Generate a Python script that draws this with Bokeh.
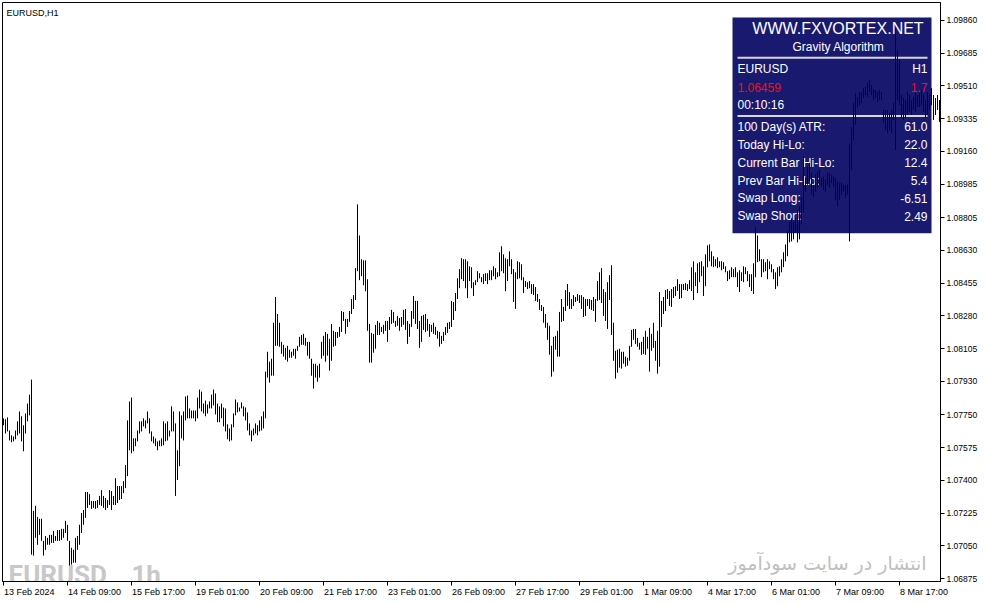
from bokeh.plotting import figure
from bokeh.models import Range1d, FixedTicker, PrintfTickFormatter
from bokeh.core.properties import value
from bokeh.embed import file_html
from bokeh.resources import INLINE

chart_title = "EURUSD,H1"

high = [
1.07732, 1.07727, 1.07737, 1.07667, 1.07641, 1.07635, 1.07667, 1.07716, 1.07769, 1.07743,
1.07695, 1.07758, 1.07811, 1.07859, 1.07939, 1.07237, 1.07264, 1.07205, 1.07195, 1.07195,
1.07077, 1.07103, 1.07093, 1.07109, 1.07109, 1.07130, 1.07103, 1.07135, 1.07135, 1.07141,
1.07141, 1.07184, 1.07163, 1.07077, 1.07040, 1.07029, 1.07093, 1.07103, 1.07163, 1.07226,
1.07242, 1.07338, 1.07338, 1.07327, 1.07290, 1.07290, 1.07290, 1.07295, 1.07317, 1.07348,
1.07317, 1.07306, 1.07295, 1.07348, 1.07343, 1.07317, 1.07412, 1.07370, 1.07370, 1.07370,
1.07396, 1.07482, 1.07721, 1.07822, 1.07843, 1.07625, 1.07625, 1.07667, 1.07716, 1.07716,
1.07732, 1.07721, 1.07769, 1.07732, 1.07662, 1.07635, 1.07625, 1.07609, 1.07614, 1.07625,
1.07716, 1.07705, 1.07716, 1.07667, 1.07796, 1.07769, 1.07705, 1.07561, 1.07769, 1.07748,
1.07769, 1.07849, 1.07854, 1.07785, 1.07774, 1.07774, 1.07774, 1.07843, 1.07886, 1.07875,
1.07811, 1.07827, 1.07806, 1.07822, 1.07859, 1.07886, 1.07865, 1.07811, 1.07796, 1.07811,
1.07790, 1.07785, 1.07700, 1.07678, 1.07700, 1.07758, 1.07833, 1.07817, 1.07790, 1.07817,
1.07796, 1.07790, 1.07764, 1.07705, 1.07667, 1.07678, 1.07705, 1.07695, 1.07721, 1.07743,
1.07769, 1.07982, 1.08088, 1.08035, 1.08051, 1.08243, 1.08381, 1.08290, 1.08243, 1.08141,
1.08125, 1.08109, 1.08120, 1.08099, 1.08088, 1.08104, 1.08104, 1.08120, 1.08168, 1.08178,
1.08184, 1.08162, 1.08141, 1.08141, 1.08051, 1.08024, 1.08024, 1.08014, 1.08024, 1.08141,
1.08173, 1.08194, 1.08184, 1.08157, 1.08237, 1.08200, 1.08194, 1.08194, 1.08221, 1.08306,
1.08301, 1.08264, 1.08264, 1.08306, 1.08370, 1.08391, 1.08535, 1.08876, 1.08710, 1.08583,
1.08577, 1.08577, 1.08476, 1.08237, 1.08189, 1.08184, 1.08232, 1.08253, 1.08243, 1.08221,
1.08232, 1.08253, 1.08253, 1.08274, 1.08312, 1.08301, 1.08253, 1.08280, 1.08269, 1.08274,
1.08312, 1.08317, 1.08253, 1.08237, 1.08306, 1.08386, 1.08360, 1.08360, 1.08253, 1.08280,
1.08285, 1.08290, 1.08264, 1.08237, 1.08232, 1.08243, 1.08221, 1.08200, 1.08194, 1.08173,
1.08194, 1.08221, 1.08243, 1.08248, 1.08360, 1.08354, 1.08402, 1.08481, 1.08530, 1.08588,
1.08583, 1.08583, 1.08572, 1.08545, 1.08540, 1.08460, 1.08471, 1.08519, 1.08508, 1.08487,
1.08503, 1.08508, 1.08508, 1.08524, 1.08524, 1.08545, 1.08535, 1.08513, 1.08620, 1.08652,
1.08609, 1.08588, 1.08583, 1.08625, 1.08583, 1.08530, 1.08513, 1.08572, 1.08567, 1.08556,
1.08487, 1.08466, 1.08460, 1.08466, 1.08450, 1.08450, 1.08434, 1.08397, 1.08370, 1.08338,
1.08328, 1.08290, 1.08243, 1.08227, 1.08120, 1.08168, 1.08173, 1.08200, 1.08301, 1.08370,
1.08328, 1.08418, 1.08450, 1.08407, 1.08370, 1.08391, 1.08381, 1.08397, 1.08391, 1.08391,
1.08381, 1.08370, 1.08370, 1.08370, 1.08365, 1.08381, 1.08370, 1.08466, 1.08513, 1.08535,
1.08423, 1.08407, 1.08460, 1.08498, 1.08551, 1.08243, 1.08093, 1.08099, 1.08104, 1.08088,
1.08088, 1.08062, 1.08056, 1.08120, 1.08205, 1.08210, 1.08210, 1.08162, 1.08136, 1.08141,
1.08168, 1.08200, 1.08168, 1.08216, 1.08184, 1.08243, 1.08146, 1.08200, 1.08407, 1.08360,
1.08381, 1.08418, 1.08423, 1.08413, 1.08423, 1.08434, 1.08439, 1.08476, 1.08450, 1.08450,
1.08450, 1.08455, 1.08450, 1.08471, 1.08540, 1.08572, 1.08513, 1.08561, 1.08567, 1.08572,
1.08545, 1.08609, 1.08657, 1.08662, 1.08625, 1.08599, 1.08583, 1.08593, 1.08572, 1.08572,
1.08567, 1.08545, 1.08519, 1.08524, 1.08540, 1.08530, 1.08540, 1.08513, 1.08524, 1.08513,
1.08545, 1.08540, 1.08519, 1.08503, 1.08503, 1.08561, 1.08753, 1.08710, 1.08636, 1.08583,
1.08583, 1.08567, 1.08583, 1.08572, 1.08556, 1.08530, 1.08513, 1.08540, 1.08545, 1.08583,
1.08620, 1.08662, 1.08732, 1.08780, 1.08801, 1.08785, 1.08806, 1.08849, 1.08865, 1.08913,
1.09131, 1.09019, 1.09077, 1.09099, 1.09045, 1.08981, 1.09035, 1.09051, 1.09062, 1.09019,
1.09024, 1.09008, 1.09045, 1.09045, 1.09035, 1.09024, 1.09019, 1.08998, 1.08992, 1.08992,
1.08981, 1.08981, 1.08981, 1.09195, 1.09290, 1.09418, 1.09471, 1.09450, 1.09477, 1.09477,
1.09498, 1.09503, 1.09524, 1.09540, 1.09514, 1.09493, 1.09487, 1.09477, 1.09487, 1.09477,
1.09381, 1.09381, 1.09381, 1.09365, 1.09381, 1.09418, 1.09817, 1.09700, 1.09647, 1.09461,
1.09445, 1.09434, 1.09477, 1.09461, 1.09434, 1.09450, 1.09477, 1.09461, 1.09471, 1.09487,
1.09461, 1.09434, 1.09477, 1.09461, 1.09498, 1.09461, 1.09445, 1.09461, 1.09434,
]

low = [
1.07695, 1.07651, 1.07662, 1.07614, 1.07604, 1.07609, 1.07620, 1.07641, 1.07651, 1.07609,
1.07556, 1.07651, 1.07716, 1.07748, 1.07003, 1.06998, 1.07093, 1.07056, 1.07109, 1.07077,
1.06998, 1.07029, 1.07056, 1.07056, 1.07066, 1.07066, 1.07077, 1.07077, 1.07077, 1.07082,
1.07093, 1.07119, 1.07077, 1.06945, 1.06950, 1.06960, 1.06960, 1.07029, 1.07056, 1.07119,
1.07163, 1.07200, 1.07253, 1.07269, 1.07248, 1.07253, 1.07248, 1.07253, 1.07269, 1.07264,
1.07253, 1.07242, 1.07253, 1.07269, 1.07242, 1.07269, 1.07269, 1.07279, 1.07295, 1.07301,
1.07332, 1.07359, 1.07423, 1.07561, 1.07545, 1.07556, 1.07583, 1.07609, 1.07651, 1.07662,
1.07689, 1.07678, 1.07705, 1.07651, 1.07609, 1.07598, 1.07583, 1.07561, 1.07583, 1.07583,
1.07588, 1.07609, 1.07614, 1.07635, 1.07662, 1.07662, 1.07317, 1.07402, 1.07476, 1.07625,
1.07614, 1.07721, 1.07732, 1.07732, 1.07732, 1.07732, 1.07716, 1.07732, 1.07785, 1.07769,
1.07758, 1.07743, 1.07758, 1.07785, 1.07785, 1.07801, 1.07753, 1.07711, 1.07711, 1.07732,
1.07689, 1.07662, 1.07620, 1.07609, 1.07614, 1.07684, 1.07748, 1.07764, 1.07769, 1.07785,
1.07743, 1.07721, 1.07667, 1.07641, 1.07609, 1.07641, 1.07651, 1.07641, 1.07662, 1.07667,
1.07678, 1.07732, 1.07950, 1.07923, 1.07960, 1.07960, 1.08120, 1.08120, 1.08115, 1.08077,
1.08062, 1.08045, 1.08035, 1.08056, 1.08056, 1.08067, 1.08051, 1.08093, 1.08115, 1.08125,
1.08125, 1.08120, 1.08067, 1.08051, 1.07960, 1.07891, 1.07950, 1.07928, 1.07950, 1.08051,
1.08067, 1.08035, 1.08067, 1.07987, 1.08040, 1.08115, 1.08120, 1.08162, 1.08168, 1.08194,
1.08253, 1.08184, 1.08221, 1.08248, 1.08290, 1.08317, 1.08365, 1.08519, 1.08471, 1.08492,
1.08444, 1.08412, 1.08200, 1.08030, 1.08030, 1.08083, 1.08104, 1.08178, 1.08178, 1.08194,
1.08184, 1.08200, 1.08141, 1.08205, 1.08237, 1.08243, 1.08221, 1.08227, 1.08200, 1.08221,
1.08232, 1.08205, 1.08130, 1.08168, 1.08221, 1.08264, 1.08237, 1.08210, 1.08109, 1.08141,
1.08205, 1.08194, 1.08200, 1.08168, 1.08194, 1.08184, 1.08178, 1.08157, 1.08115, 1.08130,
1.08146, 1.08178, 1.08189, 1.08210, 1.08221, 1.08258, 1.08306, 1.08370, 1.08428, 1.08476,
1.08466, 1.08428, 1.08375, 1.08466, 1.08428, 1.08386, 1.08444, 1.08460, 1.08481, 1.08460,
1.08450, 1.08466, 1.08450, 1.08471, 1.08471, 1.08492, 1.08476, 1.08487, 1.08492, 1.08519,
1.08508, 1.08412, 1.08466, 1.08545, 1.08503, 1.08354, 1.08317, 1.08476, 1.08481, 1.08471,
1.08402, 1.08434, 1.08423, 1.08428, 1.08397, 1.08391, 1.08360, 1.08354, 1.08312, 1.08306,
1.08243, 1.08216, 1.08152, 1.08072, 1.07955, 1.07982, 1.08099, 1.08062, 1.08062, 1.08248,
1.08253, 1.08306, 1.08333, 1.08317, 1.08317, 1.08333, 1.08354, 1.08360, 1.08349, 1.08317,
1.08274, 1.08280, 1.08333, 1.08317, 1.08312, 1.08306, 1.08248, 1.08360, 1.08365, 1.08349,
1.08280, 1.08253, 1.08210, 1.08365, 1.08178, 1.08040, 1.07944, 1.07976, 1.08003, 1.07998,
1.08024, 1.08008, 1.08014, 1.08040, 1.08115, 1.08152, 1.08130, 1.08115, 1.08099, 1.08072,
1.08077, 1.08072, 1.08104, 1.07982, 1.08093, 1.08109, 1.08040, 1.07971, 1.08008, 1.08221,
1.08290, 1.08306, 1.08370, 1.08333, 1.08328, 1.08375, 1.08386, 1.08413, 1.08370, 1.08375,
1.08418, 1.08418, 1.08413, 1.08423, 1.08413, 1.08365, 1.08439, 1.08402, 1.08460, 1.08492,
1.08386, 1.08439, 1.08540, 1.08572, 1.08545, 1.08540, 1.08545, 1.08535, 1.08540, 1.08524,
1.08530, 1.08513, 1.08466, 1.08476, 1.08487, 1.08487, 1.08487, 1.08434, 1.08407, 1.08466,
1.08460, 1.08503, 1.08466, 1.08434, 1.08413, 1.08397, 1.08487, 1.08567, 1.08572, 1.08487,
1.08513, 1.08519, 1.08476, 1.08530, 1.08513, 1.08476, 1.08423, 1.08439, 1.08492, 1.08513,
1.08540, 1.08572, 1.08599, 1.08673, 1.08678, 1.08689, 1.08726, 1.08673, 1.08689, 1.08769,
1.08833, 1.08945, 1.08981, 1.08998, 1.08928, 1.08918, 1.08945, 1.08966, 1.08981, 1.08971,
1.08955, 1.08945, 1.08981, 1.08966, 1.08992, 1.08971, 1.08902, 1.08865, 1.08902, 1.08928,
1.08945, 1.08913, 1.08928, 1.08678, 1.09062, 1.09221, 1.09301, 1.09397, 1.09407, 1.09418,
1.09445, 1.09461, 1.09450, 1.09477, 1.09461, 1.09434, 1.09445, 1.09423, 1.09434, 1.09434,
1.09312, 1.09274, 1.09258, 1.09274, 1.09258, 1.09328, 1.09168, 1.09434, 1.09407, 1.09338,
1.09328, 1.09338, 1.09354, 1.09370, 1.09354, 1.09381, 1.09370, 1.09397, 1.09397, 1.09407,
1.09370, 1.09338, 1.09354, 1.09381, 1.09407, 1.09328, 1.09354, 1.09381, 1.09317,
]

x_tick_bars = [0, 32, 64, 96, 128, 160, 192, 224, 256, 288, 320, 352, 384, 416, 448]
x_tick_labels = ["13 Feb 2024", "14 Feb 09:00", "15 Feb 17:00", "19 Feb 01:00", "20 Feb 09:00",
                 "21 Feb 17:00", "23 Feb 01:00", "26 Feb 09:00", "27 Feb 17:00", "29 Feb 01:00",
                 "1 Mar 09:00", "4 Mar 17:00", "6 Mar 01:00", "7 Mar 09:00", "8 Mar 17:00"]
y_ticks = [1.06875, 1.07050, 1.07225, 1.07400, 1.07575, 1.07750, 1.07930, 1.08105, 1.08280,
           1.08455, 1.08630, 1.08805, 1.08985, 1.09160, 1.09335, 1.09510, 1.09685, 1.09860]

panel_title = "WWW.FXVORTEX.NET"
panel_subtitle = "Gravity Algorithm"
panel_left = ["EURUSD", "1.06459", "00:10:16", "100 Day(s) ATR:", "Today Hi-Lo:",
              "Current Bar Hi-Lo:", "Prev Bar Hi-Lo:", "Swap Long:", "Swap Short:"]
panel_right = ["H1", "1.7", "", "61.0", "22.0", "12.4", "5.4", "-6.51", "2.49"]
watermark_left = "EURUSD _ 1h"
watermark_right = "انتشار در سایت سودآموز"

n = len(high)
idx = list(range(n))


# layout helpers: reference-picture pixel -> data coordinates
def rx(px):
    return (px - 3) / 2.0


def ry(py):
    return 1.099664 - 0.0000532 * py


# x labels sit to the right of their tick (MT4 style): centre = tick + half the label width
AX_FONT_PX = 9
_adv = {" ": 278, ":": 278, "F": 611, "e": 556, "b": 556, "M": 833, "a": 556, "r": 333}


def label_width_px(s):
    return sum(_adv.get(c, 556) for c in s) * AX_FONT_PX / 1000.0


label_centres = [round(b + (label_width_px(s) / 2.0 + 0.5) / 2.0, 3)
                 for b, s in zip(x_tick_bars, x_tick_labels)]

FRAME_W = 938   # 2 px per hourly bar
p = figure(frame_width=FRAME_W, frame_height=579, output_backend="svg", toolbar_location=None,
           x_range=Range1d(-0.5, -0.5 + FRAME_W / 2.0), y_range=Range1d(ry(584), ry(2)),
           y_axis_location="right", min_border_left=2, min_border_top=2,
           min_border_right=0, min_border_bottom=0)
p.background_fill_color = "white"
p.border_fill_color = "white"
p.outline_line_color = "black"
p.outline_line_width = 1
p.grid.visible = False

AX_FONT = "Liberation Sans"
for ax in (p.xaxis[0], p.yaxis[0]):
    ax.axis_line_color = "black"
    ax.major_tick_line_color = "black"
    ax.minor_tick_line_color = None
    ax.major_tick_in = 0
    ax.major_tick_out = 4
    ax.major_label_text_font = AX_FONT
    ax.major_label_text_color = "black"

# x axis: tick marks at the bars (minor ticks), labels centred to the right of them
p.xaxis.ticker = FixedTicker(ticks=label_centres, minor_ticks=x_tick_bars)
p.xaxis.major_label_overrides = {c: l for c, l in zip(label_centres, x_tick_labels)}
p.xaxis.major_label_text_font_size = "%dpx" % AX_FONT_PX
p.xaxis.major_tick_line_color = None
p.xaxis.minor_tick_line_color = "black"
p.xaxis.minor_tick_in = 0
p.xaxis.minor_tick_out = 4
p.xaxis.major_label_standoff = 1

p.yaxis.ticker = FixedTicker(ticks=y_ticks)
p.yaxis.formatter = PrintfTickFormatter(format="%.5f")
p.yaxis.major_label_text_font_size = "8.5px"
p.yaxis.major_label_standoff = 2

# info panel (behind the bars)
p.quad(left=[rx(732)], right=[rx(931)], top=[ry(17)], bottom=[ry(234)],
       fill_color="#191970", line_color=None)
p.segment(x0=[rx(737), rx(737)], x1=[rx(927), rx(927)],
          y0=[ry(57.5), ry(116)], y1=[ry(57.5), ry(116)],
          line_color="#d6d6d6", line_width=2)
p.text(x=[rx(837.5)], y=[ry(28)], text=[panel_title], text_font=value("Liberation Sans"),
       text_font_size="16px", text_align="center", text_baseline="middle", text_color="white")
p.text(x=[rx(838)], y=[ry(47)], text=[panel_subtitle], text_font=value("Liberation Sans"),
       text_font_size="12px", text_align="center", text_baseline="middle", text_color="white")
row_py = [69, 87, 105, 127, 145, 163, 181, 199, 217]
row_colors = ["white", "#ee1111", "white", "white", "white", "white", "white", "white", "white"]
p.text(x=[rx(737)] * len(panel_left), y=[ry(v) for v in row_py], text=panel_left,
       text_font=value("Liberation Sans"), text_font_size="12px", text_align="left",
       text_baseline="middle", text_color=row_colors)
p.text(x=[rx(927)] * len(panel_right), y=[ry(v) for v in row_py], text=panel_right,
       text_font=value("Liberation Sans"), text_font_size="12px", text_align="right",
       text_baseline="middle", text_color=row_colors)

# watermarks and title
p.text(x=[rx(8)], y=[ry(577)], text=[watermark_left], text_font=value("Roboto"),
       text_font_style="bold", text_font_size="26px", text_align="left",
       text_baseline="alphabetic", text_color="#c8c8c8")
p.text(x=[rx(926)], y=[ry(565)], text=[watermark_right], text_font=value("DejaVu Sans"),
       text_font_size="19px", text_align="right", text_baseline="middle", text_color="#c0c0c0")
p.text(x=[rx(6)], y=[ry(13)], text=[chart_title], text_font=value("Liberation Sans"),
       text_font_size="9px", text_align="left", text_baseline="middle", text_color="black")

# price bars
p.segment(x0=idx, x1=idx, y0=low, y1=high, line_color="black", line_width=1)

open("out.html", "w").write(file_html(p, INLINE))
